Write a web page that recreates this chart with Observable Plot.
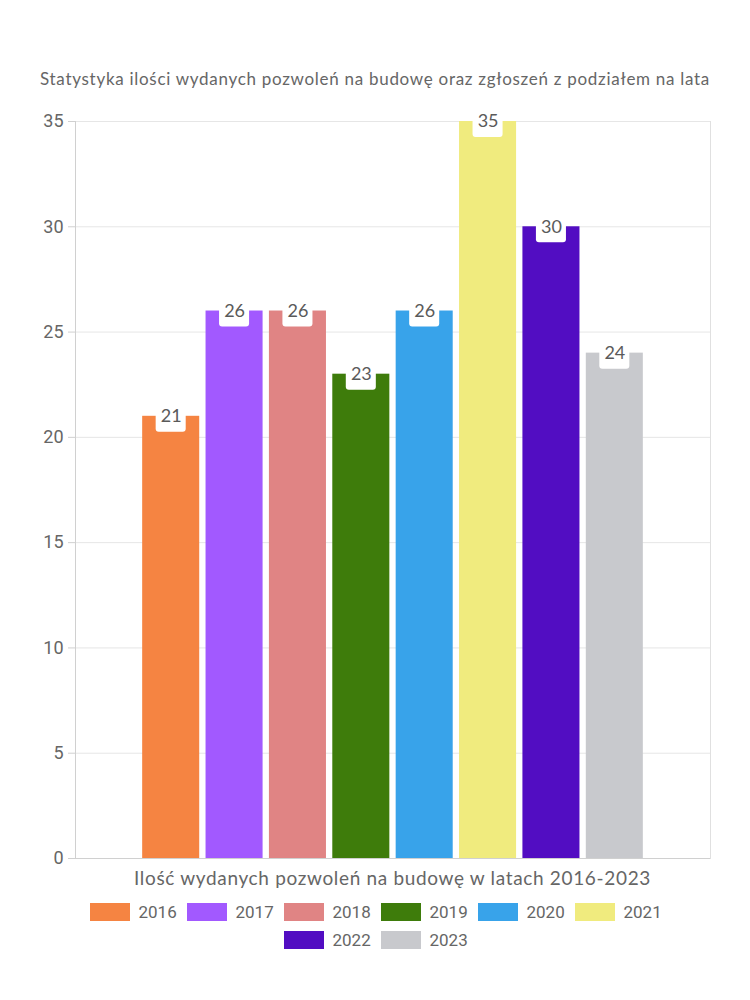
<!DOCTYPE html>
<html>
<head>
<meta charset="utf-8">
<script src="https://cdn.jsdelivr.net/npm/d3@7"></script>
<script src="https://cdn.jsdelivr.net/npm/@observablehq/plot@0.6"></script>
<style>
  body { margin: 0; background: #fff; width: 750px; height: 1000px; position: relative; font-family: "Lato", "Roboto", sans-serif; color: #666; }
  #title { position: absolute; top: 68px; left: 0; width: 750px; text-align: center; font-size: 17px; white-space: nowrap; }
  #title span, #xtitle span { display: inline-block; }
  #chart { position: absolute; top: 100px; left: 0; }
  #xtitle { position: absolute; top: 866px; left: 0; width: 785px; text-align: center; font-size: 19px; white-space: nowrap; }
  #legend { position: absolute; top: 903px; left: 75px; width: 600px; display: flex; flex-wrap: wrap; justify-content: center; row-gap: 10px; }
  .item { display: flex; align-items: center; width: 86px; margin: 0 5.5px; font-family: "Roboto", sans-serif; font-size: 17px; color: #666; height: 18px; }
  .sw { width: 40px; height: 18px; margin-right: 9px; flex: none; }
</style>
</head>
<body>
<div id="title"><span>Statystyka ilości wydanych pozwoleń na budowę oraz zgłoszeń z podziałem na lata</span></div>
<div id="chart"></div>
<div id="xtitle"><span>Ilość wydanych pozwoleń na budowę w latach 2016-2023</span></div>
<div id="legend"></div>
<script>
const years = ["2016", "2017", "2018", "2019", "2020", "2021", "2022", "2023"];
const values = [21, 26, 26, 23, 26, 35, 30, 24];
const colors = ["#F58442", "#A259FF", "#E08484", "#3E7C0B", "#38A3EA", "#F0EB7E", "#520DC2", "#C8C9CD"];
const yTicks = [0, 5, 10, 15, 20, 25, 30, 35];

const data = years.map((y, i) => ({ year: y, value: values[i] }));

const chart = Plot.plot({
  width: 750,
  height: 780,
  marginTop: 21,
  marginBottom: 22,
  marginLeft: 75,
  marginRight: 40,
  style: { fontFamily: "Roboto, sans-serif", color: "#666", background: "transparent" },
  x: { domain: years, range: [139, 646], paddingInner: 0.1, paddingOuter: 0.05, round: false, axis: null },
  y: { domain: [0, 35], ticks: yTicks, axis: null },
  color: { domain: years, range: colors },
  marks: [
    Plot.gridY(yTicks, { stroke: "#e6e6e6", strokeOpacity: 1 }),
    Plot.frame({ anchor: "left", stroke: "#d0d0d0" }),
    Plot.frame({ anchor: "right", stroke: "#e0e0e0" }),
    Plot.axisY(yTicks, { tickSize: 7, tickPadding: 5, fontSize: 18, stroke: "#d0d0d0", fill: "#666", label: null, tickFormat: d => String(d) }),
    Plot.barY(data, { x: "year", y: "value", fill: "year" }),
    Plot.ruleY([0], { stroke: "#d0d0d0" }),
    Plot.rect(data, { x: "year", y1: "value", y2: "value", fill: "white", insetLeft: 13.5, insetRight: 13.5, insetTop: -8, insetBottom: -16, rx: 3 }),
    Plot.text(data, { x: "year", y: "value", text: d => String(d.value), fontSize: 18, fill: "#5a5a5a", dy: 0, fontFamily: "Lato, sans-serif" })
  ]
});
document.getElementById("chart").appendChild(chart);

const legend = document.getElementById("legend");
years.forEach((y, i) => {
  const it = document.createElement("div");
  it.className = "item";
  const sw = document.createElement("div");
  sw.className = "sw";
  sw.style.background = colors[i];
  it.appendChild(sw);
  const t = document.createElement("span");
  t.textContent = y;
  it.appendChild(t);
  legend.appendChild(it);
});

function fit(sel, target) {
  const s = document.querySelector(sel);
  const w = s.getBoundingClientRect().width;
  const n = s.textContent.length;
  s.style.letterSpacing = ((target - w) / n) + "px";
}
fit("#title span", 670);
fit("#xtitle span", 517);
</script>
</body>
</html>
